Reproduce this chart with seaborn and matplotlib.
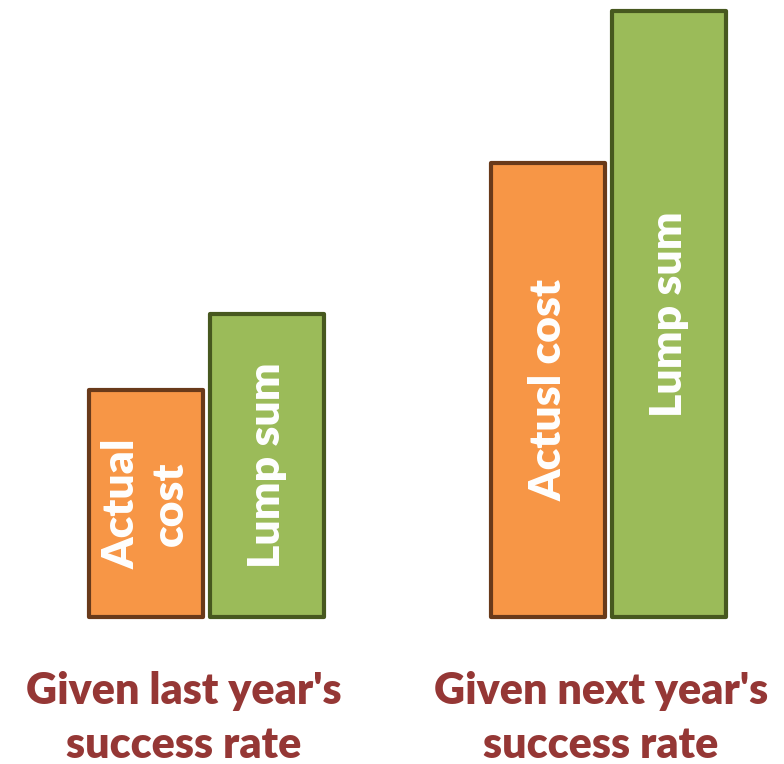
import matplotlib
matplotlib.use("Agg")
import matplotlib.pyplot as plt
import seaborn as sns
import pandas as pd

groups = ["Given last year's\nsuccess rate", "Given next year's\nsuccess rate"]
series = ["Actual cost", "Lump sum"]
actual_values = [1.5, 3.0]
lump_values = [2.0, 4.0]
bar_labels = [["Actual\ncost", "Lump sum"], ["Actusl cost", "Lump sum"]]

df = pd.DataFrame({
    "group": groups * 2,
    "series": [series[0]] * 2 + [series[1]] * 2,
    "value": actual_values + lump_values,
})

sns.set_theme(style="white")
plt.rcParams["font.family"] = ["Lato", "DejaVu Sans"]

fig = plt.figure(figsize=(7.84, 7.64), dpi=100)
ax = fig.add_axes([0, (764 - 617) / 764, 1, 606 / 764])

sns.barplot(data=df, x="group", y="value", hue="series", order=groups,
            hue_order=series, palette=["#F79646", "#9BBB59"], saturation=1,
            width=0.6, gap=0.05, legend=False, ax=ax)

edge_colors = {series[0]: "#693A1A", series[1]: "#47581F"}
for cont, s in zip(ax.containers, series):
    for p in cont:
        p.set_edgecolor(edge_colors[s])
        p.set_linewidth(3)
        p.set_clip_on(False)
        p.set_joinstyle("round")

for si, cont in enumerate(ax.containers):
    for gi, p in enumerate(cont):
        cx = p.get_x() + p.get_width() / 2
        cy = p.get_height() / 2
        ax.text(cx, cy, bar_labels[gi][si], rotation=90, ha="center", va="center",
                color="white", fontsize=32, fontweight="heavy", linespacing=1.25)

ax.set_xlim(-206.5 / 402, (784 - 206.5) / 402)
ax.set_ylim(0, 4)
ax.set_xticks([])
ax.set_yticks([])
ax.set_xlabel("")
ax.set_ylabel("")
for sp in ax.spines.values():
    sp.set_visible(False)
ax.patch.set_alpha(0)

label_x = [183.5, 601]
for gi, g in enumerate(groups):
    fig.text(label_x[gi] / 784, 1 - 718 / 764, g, ha="center", va="center",
             color="#953735", fontsize=31, fontweight="heavy", linespacing=1.4)

fig.savefig("out.png", dpi=100)
